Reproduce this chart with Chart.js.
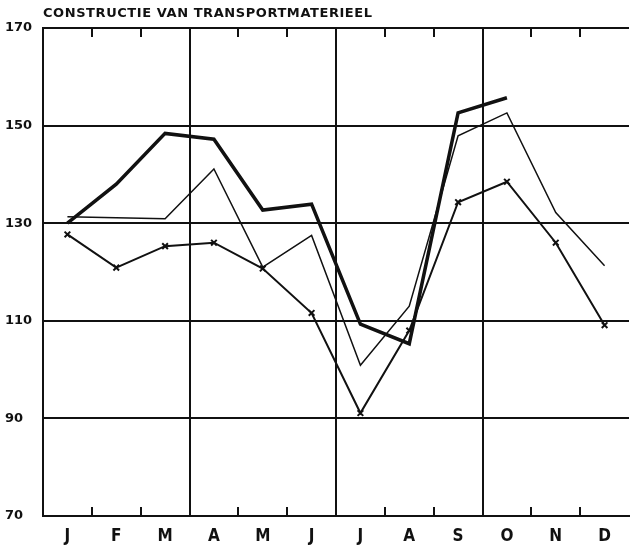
<!DOCTYPE html>
<html>
<head>
<meta charset="utf-8">
<script src="https://cdn.jsdelivr.net/npm/chart.js@4/dist/chart.umd.min.js"></script>
<style>
  html, body { margin: 0; padding: 0; background: #fff; }
  #wrap { width: 639px; height: 552px; }
</style>
</head>
<body>
<div id="wrap"><canvas id="transportChart"></canvas></div>
<script>
const title = 'CONSTRUCTIE VAN TRANSPORTMATERIEEL';
const months = ['J', 'F', 'M', 'A', 'M', 'J', 'J', 'A', 'S', 'O', 'N', 'D'];
const yTicks = [70, 90, 110, 130, 150, 170];

// thick line (stops after October)
const seriesThick = [130, 138, 148.4, 147.2, 132.7, 133.9, 109.3, 105.3, 152.6, 155.7, null, null];
// thin line
const seriesThin = [131.3, 131.1, 130.9, 141.1, 121, 127.5, 100.9, 113, 147.9, 152.6, 132.2, 121.3];
// line with x markers
const seriesCross = [127.7, 120.9, 125.3, 126, 120.7, 111.6, 91.1, 108, 134.3, 138.5, 126, 109.1];

const ink = '#111';

// title and the short inward month ticks on top and bottom border
const decor = {
  id: 'decor',
  afterDraw(chart) {
    const { ctx, chartArea, scales } = chart;
    const x = scales.x;
    ctx.save();
    ctx.strokeStyle = ink;
    ctx.lineWidth = 2;
    for (let i = 1; i < months.length; i++) {
      if (i % 3 === 0) continue;
      const px = Math.round((x.getPixelForValue(i - 1) + x.getPixelForValue(i)) / 2);
      ctx.beginPath();
      ctx.moveTo(px, chartArea.top);
      ctx.lineTo(px, chartArea.top + 9);
      ctx.moveTo(px, chartArea.bottom);
      ctx.lineTo(px, chartArea.bottom - 9);
      ctx.stroke();
    }
    ctx.fillStyle = ink;
    ctx.font = 'bold 13px "DejaVu Sans"';
    ctx.textBaseline = 'alphabetic';
    ctx.textAlign = 'left';
    const target = 329;
    const w = ctx.measureText(title).width;
    ctx.letterSpacing = ((target - w) / (title.length - 1)).toFixed(2) + 'px';
    ctx.fillText(title, chartArea.left, 17);
    ctx.restore();
  }
};

new Chart(document.getElementById('transportChart'), {
  type: 'line',
  data: {
    labels: months,
    datasets: [
      {
        label: 'thick',
        data: seriesThick,
        borderColor: ink,
        borderWidth: 3.5,
        pointRadius: 0,
        tension: 0,
        spanGaps: false
      },
      {
        label: 'thin',
        data: seriesThin,
        borderColor: ink,
        borderWidth: 1.5,
        pointRadius: 0,
        tension: 0
      },
      {
        label: 'cross',
        data: seriesCross,
        borderColor: ink,
        borderWidth: 2,
        pointStyle: 'crossRot',
        pointRadius: 4,
        pointBorderWidth: 2,
        pointBorderColor: ink,
        tension: 0
      }
    ]
  },
  options: {
    responsive: true,
    maintainAspectRatio: false,
    animation: false,
    layout: { padding: { top: 28, right: 10, left: 5, bottom: 0 } },
    plugins: {
      legend: { display: false },
      tooltip: { enabled: false }
    },
    scales: {
      x: {
        offset: true,
        grid: {
          offset: true,
          drawTicks: false,
          lineWidth: 2,
          color: (c) => (c.index % 3 === 0 ? ink : 'rgba(0,0,0,0)')
        },
        border: { color: ink, width: 2 },
        ticks: {
          color: ink,
          padding: 10,
          font: { family: '"DejaVu Sans Condensed"', weight: 'bold', size: 17 }
        },
        afterFit: (s) => { s.height = 36; }
      },
      y: {
        min: 70,
        max: 170,
        afterBuildTicks: (s) => { s.ticks = yTicks.map((v) => ({ value: v })); },
        grid: { drawTicks: false, lineWidth: 2, color: ink },
        border: { color: ink, width: 2 },
        ticks: {
          color: ink,
          crossAlign: 'far',
          padding: 4,
          font: { family: '"DejaVu Sans"', weight: 'bold', size: 13 }
        },
        afterFit: (s) => { s.width = 38; }
      }
    }
  },
  plugins: [decor]
});
</script>
</body>
</html>
